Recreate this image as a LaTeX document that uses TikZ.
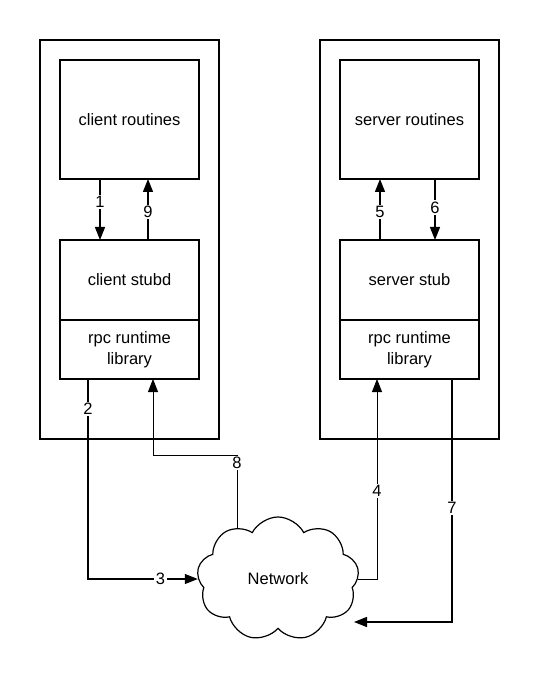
\documentclass[tikz,border=0pt]{standalone}
\usepackage{fontspec}
\setmainfont{Liberation Sans}
\usetikzlibrary{arrows.meta,shapes.symbols,positioning,backgrounds}
\begin{document}
\begin{tikzpicture}[
        x=1pt, y=-1pt,
        every node/.style={font=\fontsize{16.5}{21}\selectfont},
        hostNode/.style={rectangle, draw, line width=1.5pt, minimum width=179pt, minimum height=399pt, inner sep=0pt},
        boxNode/.style={rectangle, draw, line width=1.5pt, minimum width=139pt, align=center, inner sep=0pt, outer sep=0pt},
        cloudNode/.style={cloud, draw, line width=1.2pt, fill=white, cloud puffs=9, cloud puff arc=125, aspect=1.3, minimum width=162pt, minimum height=124pt, inner sep=0pt},
        arr/.style={-{Triangle[length=13pt,width=10pt]}, line width=1.2pt},
        lbl/.style={fill=white, inner sep=1.5pt}
    ]
        \useasboundingbox (0,0) rectangle (540,684);

        % Hosts
        \node[hostNode] (client) at (129.5,239.5) {};
        \node[hostNode] (server) at (409.5,239.5) {};

        % Client side
        \node[boxNode, minimum height=119pt] (cr) at (129.5,119.5) {client routines};
        \node[boxNode, minimum height=80pt] (cs) at (129.5,280) {client stubd};
        \node[boxNode, minimum height=59pt, below=0pt of cs] (cl) {rpc runtime\\library};

        % Server side
        \node[boxNode, minimum height=119pt] (sr) at (409.5,119.5) {server routines};
        \node[boxNode, minimum height=80pt] (ss) at (409.5,280) {server stub};
        \node[boxNode, minimum height=59pt, below=0pt of ss] (sl) {rpc runtime\\library};

        % Network
        \node[cloudNode] (net) at (278,579) {Network};
        \coordinate (c8) at (153,455);
        \coordinate (n7) at (354,622);

        % Edges
        \draw[arr] ([xshift=-29.5pt]cr.south) -- node[lbl, pos=0.38] {1} ([xshift=-29.5pt]cs.north);
        \draw[arr] ([xshift=18.5pt]cs.north) -- node[lbl, pos=0.46] {9} ([xshift=18.5pt]cr.south);
        \draw[arr] ([xshift=-29.5pt]ss.north) -- node[lbl, pos=0.46] {5} ([xshift=-29.5pt]sr.south);
        \draw[arr] ([xshift=25.5pt]sr.south) -- node[lbl, pos=0.47] {6} ([xshift=25.5pt]ss.north);
        \begin{scope}[on background layer]
            \draw[arr] ([xshift=-41.5pt]cl.south) |- node[lbl, pos=0.075] {2} node[lbl, pos=0.83] {3} (net.west);
            \draw[arr, line width=0.8pt] ([xshift=-41pt,yshift=-20pt]net.north) |- node[lbl, pos=0.45] {8} (c8) -- ([xshift=23.5pt]cl.south);
            \draw[arr, line width=0.8pt] (net.east) -| node[lbl, pos=0.72] {4} ([xshift=-32.5pt]sl.south);
            \draw[arr] ([xshift=42.5pt]sl.south) |- node[lbl, pos=0.265] {7} (n7);
        \end{scope}
    \end{tikzpicture}
\end{document}
